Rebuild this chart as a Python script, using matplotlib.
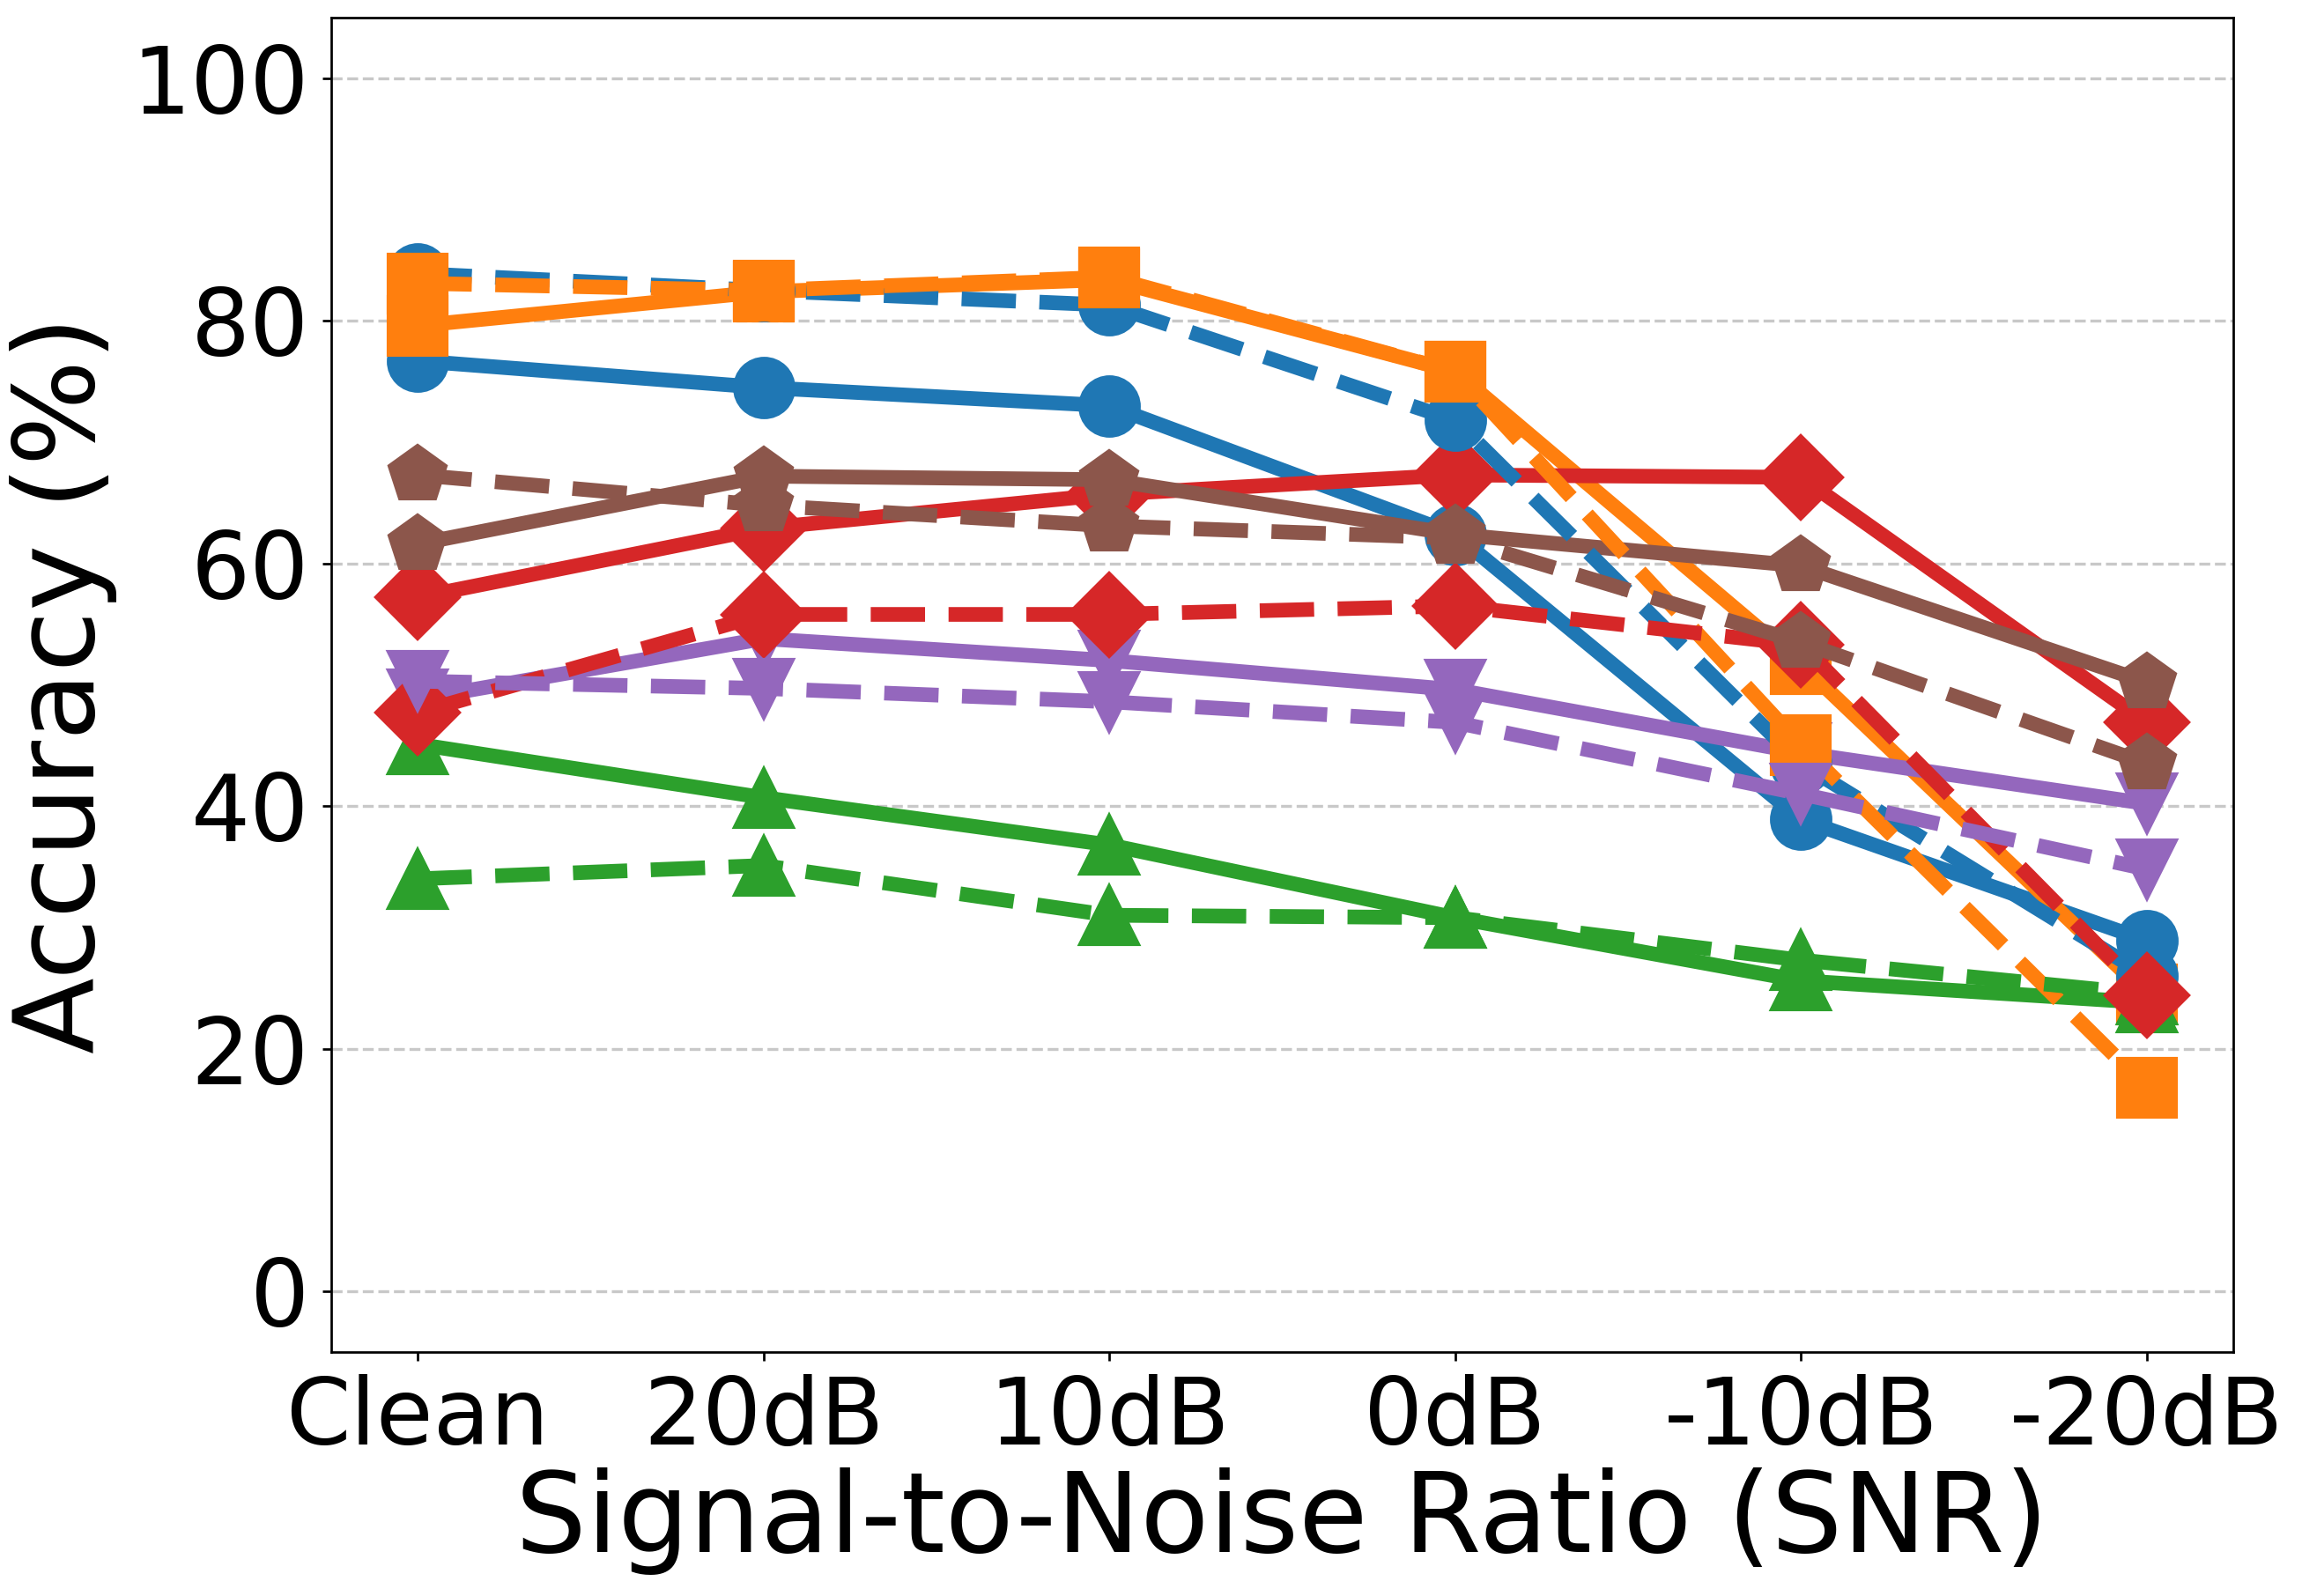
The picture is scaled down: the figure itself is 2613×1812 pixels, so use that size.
import matplotlib
matplotlib.use("Agg")
import matplotlib.pyplot as plt

snr_labels = ["Clean", "20dB", "10dB", "0dB", "-10dB", "-20dB"]

# solid lines
blue_solid = [76.7, 74.5, 73.0, 62.4, 38.9, 28.9]
orange_solid = [79.6, 82.4, 83.4, 75.8, 51.7, 24.5]
green_solid = [45.1, 40.7, 36.8, 30.8, 25.6, 23.8]
red_solid = [57.2, 62.9, 65.7, 67.3, 67.1, 46.9]
purple_solid = [48.8, 53.8, 52.0, 49.6, 44.4, 40.2]
brown_solid = [61.6, 67.2, 66.9, 62.4, 59.8, 50.2]

# dashed lines
blue_dashed = [83.9, 82.5, 81.3, 71.8, 43.5, 26.0]
orange_dashed = [83.1, 82.5, 83.6, 75.8, 45.0, 16.8]
green_dashed = [34.0, 35.1, 31.0, 30.8, 27.3, 24.5]
red_dashed = [47.7, 55.8, 55.8, 56.5, 53.3, 24.4]
purple_dashed = [50.3, 49.7, 48.6, 46.9, 41.0, 34.8]
brown_dashed = [67.3, 64.8, 63.1, 62.1, 53.5, 43.5]

colors = ["tab:blue", "tab:orange", "tab:green", "tab:red", "tab:purple", "tab:brown"]
markers = ["o", "s", "^", "D", "v", "p"]
solid_series = [blue_solid, orange_solid, green_solid, red_solid, purple_solid, brown_solid]
dashed_series = [blue_dashed, orange_dashed, green_dashed, red_dashed, purple_dashed, brown_dashed]

x = list(range(len(snr_labels)))

fig, ax = plt.subplots(figsize=(8.71, 6.04), dpi=300)

for vals, c, m in zip(solid_series, colors, markers):
    ax.plot(x, vals, color=c, marker=m, linestyle="-", linewidth=4, markersize=16)
for vals, c, m in zip(dashed_series, colors, markers):
    ax.plot(x, vals, color=c, marker=m, linestyle="--", linewidth=4, markersize=16)

ax.set_xlim(-0.25, 5.25)
ax.set_ylim(-5, 105)
ax.set_yticks([0, 20, 40, 60, 80, 100])
ax.set_xticks(x)
ax.set_xticklabels(snr_labels)
ax.tick_params(axis="both", labelsize=25.3, length=2.5, width=0.65)
for sp in ax.spines.values():
    sp.set_linewidth(0.65)
ax.set_xlabel("Signal-to-Noise Ratio (SNR)", fontsize=30.6, labelpad=1)
ax.set_ylabel("Accuracy (%)", fontsize=30.4)
ax.grid(axis="y", linestyle="--", color="#bbbbbb", linewidth=0.8, alpha=0.8)

plt.subplots_adjust(left=0.1438, right=0.9702, top=0.989, bottom=0.1529)
plt.savefig("out.png", dpi=300)
plt.close()
